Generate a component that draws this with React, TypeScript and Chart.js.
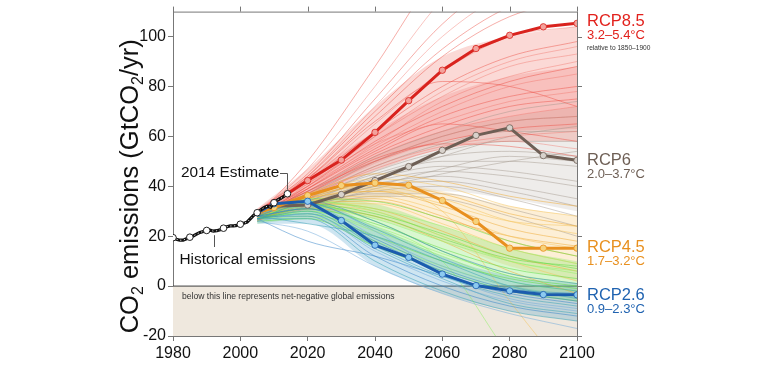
import React, { useEffect, useRef } from "react";
import { Chart, registerables } from "chart.js";
Chart.register(...registerables);

// ---------- DATA ----------
const xTicks = [1980, 2000, 2020, 2040, 2060, 2080, 2100];
const yTicks = [-20, 0, 20, 40, 60, 80, 100];

const histYears = [1980, 1981, 1982, 1983, 1984, 1985, 1986, 1987, 1988, 1989, 1990, 1991, 1992, 1993, 1994, 1995, 1996, 1997, 1998, 1999, 2000, 2001, 2002, 2003, 2004, 2005, 2006, 2007, 2008, 2009, 2010, 2011, 2012, 2013, 2014];
const histValues = [19.4, 18.8, 18.4, 18.4, 19.0, 19.6, 20.1, 20.8, 21.5, 21.9, 22.3, 22.4, 22.0, 22.2, 22.6, 23.2, 23.8, 24.1, 24.1, 24.3, 24.8, 25.2, 25.6, 27.0, 28.4, 29.4, 30.5, 31.4, 32.0, 31.6, 33.4, 34.5, 35.2, 36.0, 37.0];
const histMarkerYears = [1980, 1985, 1990, 1995, 2000, 2005, 2010, 2014];
const histMarkerValues = [19.4, 19.6, 22.3, 23.2, 24.8, 29.4, 33.4, 37.0];

const rcpYears = [2005, 2010, 2020, 2030, 2040, 2050, 2060, 2070, 2080, 2090, 2100];
const rcp85 = [29.4, 33.5, 42.3, 50.5, 61.6, 74.3, 86.5, 95.2, 100.5, 103.9, 105.3];
const rcp6 = [29.4, 32.0, 32.5, 36.7, 42.3, 47.9, 54.4, 60.4, 63.4, 52.3, 50.4];
const rcp45 = [29.4, 31.5, 36.3, 40.3, 41.3, 40.4, 34.3, 25.9, 15.2, 15.2, 15.2];
const rcp26 = [29.4, 33.0, 34.0, 26.3, 16.4, 11.5, 4.8, 0.2, -1.9, -3.4, -3.5];

const ensYears = [2005, 2020, 2040, 2060, 2080, 2100];
const redRuns = [
  [28, 50, 88, 128, 150, 160],
  [29, 47, 80, 115, 140, 150],
  [30, 45, 75, 105, 125, 135],
  [27, 44, 72, 100, 118, 125],
  [28, 43, 68, 92, 108, 115],
  [29, 42, 65, 86, 100, 104],
  [30, 42, 62, 80, 92, 98],
  [27, 41, 60, 76, 88, 93],
  [28, 40, 58, 72, 82, 88],
  [29, 40, 56, 70, 80, 85],
  [27, 39, 55, 68, 76, 80],
  [30, 41, 57, 66, 74, 78],
  [28, 38, 53, 64, 72, 75],
  [26, 37, 52, 62, 68, 72],
  [29, 39, 54, 65, 62, 58],
  [27, 36, 50, 60, 66, 68],
  [28, 37, 51, 58, 63, 65],
  [26, 35, 48, 56, 60, 62],
  [29, 38, 50, 57, 56, 52],
  [27, 36, 47, 55, 58, 55],
  [30, 43, 66, 82, 80, 72],
  [28, 40, 60, 78, 90, 96],
  [29, 44, 70, 95, 112, 120],
  [27, 39, 57, 74, 84, 90],
];
const grayRuns = [
  [28, 38, 52, 62, 70, 74],
  [29, 37, 50, 60, 66, 68],
  [27, 36, 48, 57, 62, 62],
  [28, 35, 46, 54, 58, 58],
  [29, 36, 45, 52, 54, 52],
  [27, 34, 44, 50, 50, 48],
  [28, 35, 43, 48, 46, 42],
  [27, 33, 42, 46, 44, 40],
  [28, 34, 41, 44, 40, 35],
  [29, 33, 40, 42, 38, 32],
  [27, 32, 38, 40, 35, 28],
  [28, 33, 37, 37, 31, 24],
  [27, 31, 36, 35, 28, 20],
  [28, 32, 39, 45, 50, 54],
  [29, 34, 44, 52, 60, 64],
  [27, 33, 40, 47, 52, 50],
];
const orangeRuns = [
  [29, 37, 45, 42, 36, 32],
  [28, 36, 43, 40, 32, 28],
  [27, 35, 41, 37, 29, 24],
  [29, 36, 40, 35, 26, 21],
  [28, 35, 38, 32, 23, 18],
  [27, 34, 36, 30, 20, 15],
  [28, 34, 35, 28, 18, 12],
  [29, 33, 33, 25, 15, 9],
  [27, 33, 31, 22, 12, 6],
  [28, 32, 30, 20, 10, 2],
  [27, 31, 28, 18, 6, -3],
  [28, 34, 38, 30, -6, -40],
  [28, 33, 34, 27, 20, 16],
  [29, 35, 39, 33, 26, 24],
];
const greenRuns = [
  [28, 35, 34, 27, 18, 12],
  [27, 34, 31, 24, 15, 9],
  [29, 33, 29, 21, 12, 7],
  [28, 32, 27, 18, 10, 5],
  [27, 31, 25, 15, 7, 3],
  [26, 30, 23, 13, 5, 1],
  [28, 29, 20, 10, 3, -1],
  [27, 28, 18, 8, 0, -4],
  [26, 27, 16, 6, -2, -6],
  [28, 31, 24, 10, -28, -60],
  [27, 33, 26, 14, 4, 0],
  [29, 34, 30, 20, 10, 6],
  [28, 32, 28, 19, 11, 8],
  [27, 30, 22, 12, 2, -2],
];
const blueRuns = [
  [28, 34, 26, 14, 5, 1],
  [27, 33, 23, 11, 2, -2],
  [29, 32, 20, 8, 0, -4],
  [28, 31, 18, 6, -2, -6],
  [27, 30, 16, 4, -4, -8],
  [26, 29, 14, 2, -6, -10],
  [28, 28, 12, 0, -8, -12],
  [27, 27, 10, -2, -10, -14],
  [26, 22, 8, -3, -11, -17],
  [27, 18, 12, 4, -3, -7],
  [28, 25, 20, 10, 0, -5],
  [29, 33, 22, 5, -5, -9],
  [28, 31, 19, 7, -1, -3],
  [27, 29, 15, 3, -7, -11],
];
const redCoreLow = [26, 35, 46, 55, 58, 58];
const redCoreHigh = [31, 47, 72, 92, 100, 104];
const redDenseLow = [26, 36, 49, 58, 62, 63];
const redDenseHigh = [31, 44, 62, 76, 84, 88];
const grayCoreLow = [26, 31, 35, 38, 35, 30];
const grayCoreHigh = [30, 38, 52, 62, 68, 72];
const orangeCoreLow = [26, 30, 27, 18, 8, 2];
const orangeCoreHigh = [30, 37, 42, 38, 32, 28];
const greenCoreLow = [25, 27, 16, 6, -2, -6];
const greenCoreHigh = [29, 35, 33, 24, 15, 10];
const blueCoreLow = [25, 25, 8, -3, -10, -14];
const blueCoreHigh = [29, 34, 24, 12, 4, 1];

// ---------- STYLE ----------
const FONT = "'Liberation Sans', Arial, Helvetica, sans-serif";
const C85 = "#d9231e";
const C6 = "#6e5f55";
const C45 = "#e8901f";
const C26 = "#1b5cae";

const pts = (xs: number[], ys: number[]) => xs.map((x, i) => ({ x, y: ys[i] }));

function runSets(runs: number[][], colors: string[], order: number) {
  return runs.map((r, i) => ({
    data: pts(ensYears, r),
    borderColor: colors[i % colors.length],
    borderWidth: 1,
    pointRadius: 0,
    cubicInterpolationMode: "monotone" as const,
    fill: false,
    order,
  }));
}
function band(lo: number[], hi: number[], color: string, order: number) {
  return [
    { data: pts(ensYears, lo), borderWidth: 0, pointRadius: 0, cubicInterpolationMode: "monotone" as const, fill: false, order, borderColor: "transparent" },
    { data: pts(ensYears, hi), borderWidth: 0, pointRadius: 0, cubicInterpolationMode: "monotone" as const, fill: "-1", backgroundColor: color, order, borderColor: "transparent" },
  ];
}
function mainLine(vals: number[], color: string, ptFill: string, order: number) {
  return {
    data: pts(rcpYears, vals),
    borderColor: color,
    borderWidth: 3,
    pointRadius: rcpYears.map((y) => (y === 2005 ? 0 : 3.2)),
    pointBackgroundColor: ptFill,
    pointBorderColor: color,
    pointBorderWidth: 0.8,
    tension: 0,
    fill: false,
    order,
  };
}

const decor = {
  id: "decor",
  beforeDatasetsDraw(chart: any) {
    const { ctx, chartArea: a, scales } = chart;
    const y0 = scales.y.getPixelForValue(0);
    ctx.save();
    ctx.fillStyle = "#efe8de";
    ctx.fillRect(a.left, y0, a.right - a.left, a.bottom - y0);
    ctx.strokeStyle = "#3c3c3c";
    ctx.lineWidth = 1;
    ctx.beginPath();
    ctx.moveTo(a.left, y0);
    ctx.lineTo(a.right, y0);
    ctx.stroke();
    ctx.fillStyle = "#333";
    ctx.font = `8.6px ${FONT}`;
    ctx.textBaseline = "middle";
    ctx.textAlign = "left";
    ctx.fillText("below this line represents net-negative global emissions", a.left + 9, y0 + 10.5);
    ctx.restore();
  },
  afterDraw(chart: any) {
    const { ctx, chartArea: a, scales } = chart;
    const sx = scales.x, sy = scales.y;
    ctx.save();
    ctx.strokeStyle = "#777";
    ctx.lineWidth = 1;
    ctx.beginPath();
    ctx.moveTo(a.left, a.top + 0.5);
    ctx.lineTo(a.right, a.top + 0.5);
    ctx.moveTo(a.right + 0.5, a.top);
    ctx.lineTo(a.right + 0.5, a.bottom);
    xTicks.forEach((v) => {
      const px = Math.round(sx.getPixelForValue(v)) + 0.5;
      ctx.moveTo(px, a.top);
      ctx.lineTo(px, a.top - 5);
    });
    yTicks.forEach((v) => {
      const py = Math.round(sy.getPixelForValue(v)) + 0.5;
      ctx.moveTo(a.right, py);
      ctx.lineTo(a.right + 5, py);
    });
    ctx.stroke();

    const parts: [string, boolean][] = [["CO", false], ["2", true], [" emissions (GtCO", false], ["2", true], ["/yr)", false]];
    const big = 25.5, small = 16;
    let total = 0;
    parts.forEach(([t, s]) => {
      ctx.font = `${s ? small : big}px ${FONT}`;
      total += ctx.measureText(t).width;
    });
    ctx.translate(138, (a.top + a.bottom) / 2 + 12.5);
    ctx.rotate(-Math.PI / 2);
    ctx.fillStyle = "#111";
    ctx.textBaseline = "alphabetic";
    ctx.textAlign = "left";
    let cx = -total / 2;
    parts.forEach(([t, s]) => {
      ctx.font = `${s ? small : big}px ${FONT}`;
      ctx.fillText(t, cx, s ? 5 : 0);
      cx += ctx.measureText(t).width;
    });
    ctx.setTransform(1, 0, 0, 1, 0, 0);

    ctx.fillStyle = "#111";
    ctx.font = `15.4px ${FONT}`;
    ctx.textBaseline = "middle";
    ctx.textAlign = "left";
    ctx.fillText("2014 Estimate", 181, 173);
    ctx.fillText("Historical emissions", 179.5, 259.5);
    ctx.strokeStyle = "#555";
    ctx.lineWidth = 1;
    const ex = Math.round(sx.getPixelForValue(2014)) + 0.5;
    const ey = sy.getPixelForValue(37);
    ctx.beginPath();
    ctx.moveTo(280, 173.5);
    ctx.lineTo(ex, 173.5);
    ctx.lineTo(ex, ey - 4);
    const hx = Math.round(sx.getPixelForValue(1992.3)) + 0.5;
    ctx.moveTo(hx, sy.getPixelForValue(22.0) + 4);
    ctx.lineTo(hx, 247);
    ctx.stroke();

    const lx = a.right + 10;
    const lab = (t: string, y: number, size: number, color: string) => {
      ctx.fillStyle = color;
      ctx.font = `${size}px ${FONT}`;
      ctx.fillText(t, lx, y);
    };
    lab("RCP8.5", 21.5, 16.5, "#e2211c");
    lab("3.2–5.4°C", 35.5, 13, "#e2211c");
    lab("relative to 1850–1900", 48, 6.6, "#333");
    lab("RCP6", 160, 16.5, C6);
    lab("2.0–3.7°C", 174, 13, C6);
    lab("RCP4.5", 247.5, 16.5, C45);
    lab("1.7–3.2°C", 261, 13, C45);
    lab("RCP2.6", 295, 16.5, "#1f62b0");
    lab("0.9–2.3°C", 309, 13, "#1f62b0");
    ctx.restore();
  },
};

export default function App() {
  const ref = useRef<HTMLCanvasElement>(null);
  useEffect(() => {
    if (!ref.current) return;
    const datasets: any[] = [
      ...band(grayCoreLow, grayCoreHigh, "rgba(170,160,150,0.2)", 40),
      ...band(redCoreLow, redCoreHigh, "rgba(235,80,70,0.22)", 39),
      ...band(redDenseLow, redDenseHigh, "rgba(235,80,70,0.18)", 38),
      ...band(orangeCoreLow, orangeCoreHigh, "rgba(245,180,70,0.22)", 37),
      ...band(greenCoreLow, greenCoreHigh, "rgba(130,230,100,0.3)", 36),
      ...band(blueCoreLow, blueCoreHigh, "rgba(60,150,200,0.25)", 35),
      ...runSets(grayRuns, ["rgba(160,148,138,0.45)"], 30),
      ...runSets(redRuns, ["rgba(235,75,65,0.45)", "rgba(240,110,100,0.4)"], 29),
      ...runSets(orangeRuns, ["rgba(240,170,50,0.5)", "rgba(245,195,90,0.5)"], 28),
      ...runSets(greenRuns, ["rgba(100,220,70,0.55)", "rgba(150,240,110,0.55)"], 27),
      ...runSets(blueRuns, ["rgba(50,130,200,0.5)", "rgba(50,160,180,0.5)", "rgba(110,170,220,0.5)"], 26),
      mainLine(rcp6, C6, "#d8d2cc", 8),
      mainLine(rcp45, C45, "#f6d27c", 7),
      mainLine(rcp85, C85, "#f3a29c", 6),
      mainLine(rcp26, C26, "#8ccaf0", 5),
      {
        data: pts(histYears, histValues),
        borderColor: "#111",
        borderWidth: 3.2,
        pointRadius: 0,
        tension: 0,
        fill: false,
        order: 3,
      },
      {
        data: pts(histYears, histValues),
        borderColor: "rgba(255,255,255,0.9)",
        borderWidth: 1,
        borderDash: [1.2, 2.6],
        pointRadius: 0,
        tension: 0,
        fill: false,
        order: 2,
      },
      {
        data: pts(histMarkerYears, histMarkerValues),
        showLine: false,
        pointRadius: 3.3,
        pointBackgroundColor: "#fff",
        pointBorderColor: "#222",
        pointBorderWidth: 1,
        order: 1,
      },
    ];
    const chart = new Chart(ref.current, {
      type: "line",
      data: { datasets },
      options: {
        animation: false,
        responsive: false,
        maintainAspectRatio: false,
        layout: { padding: { left: 0, top: 11, right: 183, bottom: 0 } },
        plugins: { legend: { display: false }, tooltip: { enabled: false } },
        scales: {
          x: {
            type: "linear",
            min: 1980,
            max: 2100,
            afterBuildTicks: (s: any) => { s.ticks = xTicks.map((v) => ({ value: v })); },
            afterFit: (s: any) => { s.height = 40; },
            grid: { drawOnChartArea: false, drawTicks: true, tickLength: 5, color: "#777" },
            border: { display: true, color: "#777" },
            ticks: { color: "#111", padding: 3, font: { family: FONT, size: 16 }, maxRotation: 0, callback: (v: any) => String(v) },
          },
          y: {
            type: "linear",
            min: -20,
            max: 110,
            afterBuildTicks: (s: any) => { s.ticks = yTicks.map((v) => ({ value: v })); },
            afterFit: (s: any) => { s.width = 173; },
            grid: { drawOnChartArea: false, drawTicks: true, tickLength: 5, color: "#777" },
            border: { display: true, color: "#777" },
            ticks: { color: "#111", padding: 2, font: { family: FONT, size: 16 }, callback: (v: any) => String(v) },
          },
        },
      },
      plugins: [decor],
    });
    return () => chart.destroy();
  }, []);
  return (
    <div style={{ position: "absolute", left: 0, top: 0, width: 760, height: 376, background: "#fff" }}>
      <canvas ref={ref} width={760} height={376} style={{ display: "block", width: 760, height: 376 }} />
    </div>
  );
}
